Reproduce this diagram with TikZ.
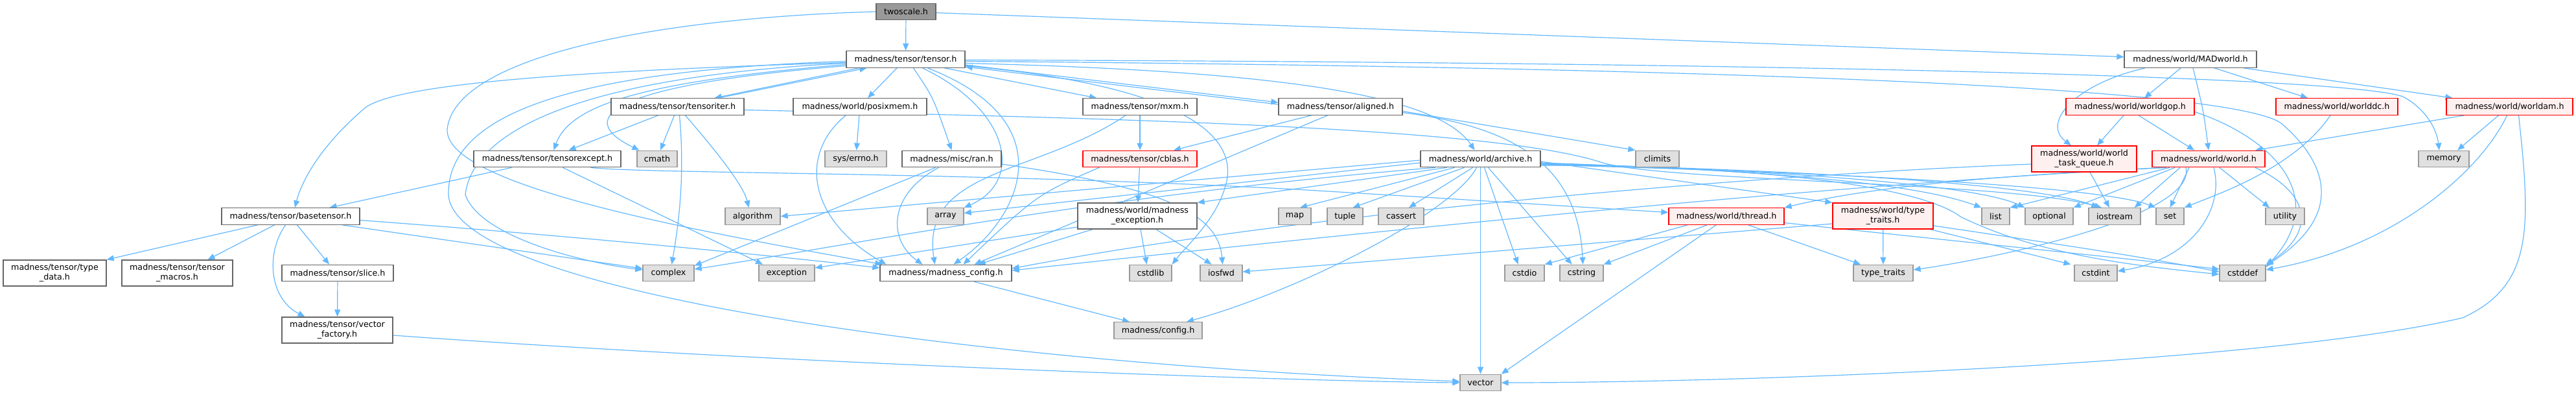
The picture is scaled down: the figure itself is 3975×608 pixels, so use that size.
\documentclass[tikz,border=0pt]{standalone}
\usepackage{fontspec}
\setmainfont{DejaVu Sans}
\usetikzlibrary{arrows.meta}
\definecolor{edgec}{HTML}{63B8FF}
\definecolor{nodeb}{HTML}{666666}
\definecolor{sysb}{HTML}{999999}
\definecolor{sysf}{HTML}{E0E0E0}
\definecolor{redb}{HTML}{FF0000}
\definecolor{redf}{HTML}{FFF0F0}
\definecolor{rootf}{HTML}{999999}
\newcommand\nfont{\fontsize{12.7pt}{15pt}\selectfont}
\pgfdeclarelayer{bg}
\pgfsetlayers{bg,main}
\tikzset{
  nb/.style={draw=nodeb, fill=white, line width=1.3pt, inner sep=0pt, align=center, font=\nfont, minimum height=25.5pt},
  nsys/.style={nb, draw=sysb, fill=sysf},
  nred/.style={nb, draw=redb, fill=redf},
  nroot/.style={nb, draw=nodeb, fill=rootf},
  two/.style={minimum height=40pt},
  edg/.style={draw=edgec, line width=1.2pt, -{Triangle[length=11pt,width=9pt]}},
}
\begin{document}
\begin{tikzpicture}[x=1pt,y=-1pt]
\useasboundingbox (0,0) rectangle (3975,608);
% row 0/1
\node[nroot, minimum width=92pt] (TS) at (1398,18) {twoscale.h};
\node[nb, minimum width=183pt] (T) at (1397.5,91.5) {madness/tensor/tensor.h};
\node[nb, minimum width=204pt] (MAD) at (3380,91.5) {madness/world/MADworld.h};
% row 2
\node[nb, minimum width=205pt] (TI) at (1045.5,164.5) {madness/tensor/tensoriter.h};
\node[nb, minimum width=206pt] (PM) at (1327,164.5) {madness/world/posixmem.h};
\node[nb, minimum width=176pt] (MXM) at (1759,164.5) {madness/tensor/mxm.h};
\node[nb, minimum width=191pt] (AL) at (2068.5,164.5) {madness/tensor/aligned.h};
\node[nred, minimum width=198pt] (GOP) at (3287,164.5) {madness/world/worldgop.h};
\node[nred, minimum width=188pt] (WDC) at (3606,164.5) {madness/world/worlddc.h};
\node[nred, minimum width=195pt] (AM) at (3872.5,164.5) {madness/world/worldam.h};
% row 3
\node[nb, minimum width=227pt] (TE) at (844.5,245) {madness/tensor/tensorexcept.h};
\node[nsys, minimum width=62pt] (CMATH) at (1014,245) {cmath};
\node[nsys, minimum width=95pt] (ERRNO) at (1320.5,245) {sys/errno.h};
\node[nb, minimum width=153pt] (RAN) at (1468.5,245) {madness/misc/ran.h};
\node[nred, minimum width=176pt] (CBLAS) at (1759,245) {madness/tensor/cblas.h};
\node[nb, minimum width=185pt] (AR) at (2284.5,245) {madness/world/archive.h};
\node[nsys, minimum width=67pt] (CLIM) at (2557.5,245) {climits};
\node[nred, two, minimum width=162pt] (WTQ) at (3216,245) {madness/world/world\\\_task\_queue.h};
\node[nred, minimum width=174pt] (W) at (3408,245) {madness/world/world.h};
\node[nsys, minimum width=78pt] (MEM) at (3771,245) {memory};
% row 4
\node[nb, minimum width=213pt] (BT) at (448.5,333.5) {madness/tensor/basetensor.h};
\node[nsys, minimum width=85pt] (ALG) at (1161.5,333.5) {algorithm};
\node[nsys, minimum width=56pt] (ARR) at (1459,333.5) {array};
\node[nb, two, minimum width=184pt] (ME) at (1755,333) {madness/world/madness\\\_exception.h};
\node[nsys, minimum width=50pt] (MAP) at (1998,333.5) {map};
\node[nsys, minimum width=55pt] (TUP) at (2075.5,333.5) {tuple};
\node[nsys, minimum width=70pt] (CAS) at (2162,333.5) {cassert};
\node[nred, minimum width=178pt] (TH) at (2664,333.5) {madness/world/thread.h};
\node[nred, two, minimum width=155pt] (TT) at (2905.5,333) {madness/world/type\\\_traits.h};
\node[nsys, minimum width=43pt] (LIST) at (3079.5,333.5) {list};
\node[nsys, minimum width=74pt] (OPT) at (3162,333.5) {optional};
\node[nsys, minimum width=80pt] (IOS) at (3263,333.5) {iostream};
\node[nsys, minimum width=43pt] (SET) at (3348.5,333.5) {set};
\node[nsys, minimum width=60pt] (UTIL) at (3526,333.5) {utility};
% row 5
\node[nb, two, minimum width=159pt] (TD) at (84.5,421) {madness/tensor/type\\\_data.h};
\node[nb, two, minimum width=171pt] (TM) at (273.5,421) {madness/tensor/tensor\\\_macros.h};
\node[nb, minimum width=172pt] (SL) at (521,421) {madness/tensor/slice.h};
\node[nsys, minimum width=79pt] (CPX) at (1031.5,421) {complex};
\node[nsys, minimum width=86pt] (EXC) at (1214,421) {exception};
\node[nb, minimum width=203pt] (MC) at (1459.5,421) {madness/madness\_config.h};
\node[nsys, minimum width=65pt] (CSL) at (1775.5,421) {cstdlib};
\node[nsys, minimum width=65pt] (IOSF) at (1884.5,421) {iosfwd};
\node[nsys, minimum width=61pt] (CSTDIO) at (2352.5,421) {cstdio};
\node[nsys, minimum width=67pt] (CSTR) at (2440.5,421) {cstring};
\node[nsys, minimum width=92pt] (TYT) at (2906,421) {type\_traits};
\node[nsys, minimum width=66pt] (CINT) at (3234,421) {cstdint};
\node[nsys, minimum width=71pt] (CDEF) at (3460.5,421) {cstddef};
% row 6/7
\node[nb, two, minimum width=171pt] (VF) at (520.5,509) {madness/tensor/vector\\\_factory.h};
\node[nsys, minimum width=136pt] (CFG) at (1787,509.5) {madness/config.h};
\node[nsys, minimum width=63pt] (VEC) at (2284.5,590) {vector};

\begin{pgfonlayer}{bg}
% twoscale.h
\draw[edg] (TS) -- (T);
\draw[edg] (TS) -- (MAD);
\draw[edg] (TS.west) .. controls (1000,28) and (700,90) .. (690,200) .. controls (688,290) and (1100,360) .. ([xshift=4pt]MC.north west);
% tensor.h
\draw[edg] ([yshift=-5pt]T.west) .. controls (800,112) and (610,135) .. (565,165) .. controls (505,215) and (468,270) .. ([xshift=6.5pt]BT.north);
\draw[edg] ([yshift=-3pt]T.west) .. controls (900,108) and (690,170) .. (692,300) .. controls (700,450) and (1500,560) .. ([yshift=2pt]VEC.west);
\draw[edg] ([yshift=-6pt]T.west) .. controls (900,118) and (730,200) .. (718,300) .. controls (740,365) and (900,405) .. ([yshift=5pt]CPX.west);
\draw[edg] ([yshift=-8pt]T.west) .. controls (1000,125) and (880,160) .. ([xshift=10pt]TE.north);
\draw[edg] ([yshift=-10pt]T.west) .. controls (950,130) and (880,180) .. ([xshift=4pt]CMATH.north west);
\draw[edg] ([xshift=20pt]T.south west) -- ([xshift=57pt]TI.north);
\draw[edg] ([xshift=63pt]TI.north) -- ([xshift=32pt]T.south west);
\draw[edg] ([xshift=-13.5pt]T.south) -- ([xshift=12pt]PM.north);
\draw[edg] ([xshift=12pt]T.south) .. controls (1440,150) .. (RAN.north);
\draw[edg] ([xshift=26pt]T.south) .. controls (1560,170) and (1580,280) .. (ARR.north east);
\draw[edg] ([xshift=34pt]T.south) .. controls (1650,190) and (1570,340) .. ([xshift=12pt]MC.north);
\draw[edg] ([xshift=60pt]T.south) -- ([xshift=-67pt]MXM.north);
\draw[edg] ([yshift=-8.5pt]T.east) -- ([yshift=6.5pt]AL.west);
\draw[edg] ([yshift=3.5pt]AL.west) -- ([yshift=-11.5pt]T.east);
\draw[edg] ([yshift=-6pt]T.east) .. controls (2000,110) and (2220,150) .. ([xshift=-9pt]AR.north);
\draw[edg] ([yshift=-10pt]T.east) .. controls (1800,130) and (1920,200) .. (1890,290) .. controls (1875,340) and (1830,380) .. (CSL.north east);
\draw[edg] ([yshift=-1pt]T.east) .. controls (2800,96) and (3650,120) .. (3710,150) .. controls (3745,170) and (3760,200) .. ([xshift=-7pt]MEM.north);
\draw[edg] ([yshift=-3pt]T.east) .. controls (2800,105) and (3450,140) .. (3520,190) .. controls (3590,250) and (3620,330) .. ([yshift=-2pt]CDEF.north east);
% tensoriter.h
\draw[edg] ([xshift=-30pt]TI.south) -- ([xshift=33pt]TE.north);
\draw[edg] ([xshift=-5pt]TI.south) -- ([xshift=5pt]CMATH.north);
\draw[edg] ([xshift=3pt]TI.south) .. controls (1056,260) and (1050,330) .. ([xshift=5pt]CPX.north);
\draw[edg] ([xshift=12pt]TI.south) .. controls (1120,250) and (1148,290) .. ([xshift=-6pt]ALG.north);
\draw[edg] ([yshift=-5pt]TI.east) .. controls (1700,182) and (2300,195) .. (2470,250) .. controls (2560,280) and (3100,280) .. ([xshift=-20pt]IOS.north);
% posixmem.h
\draw[edg] (PM) -- (ERRNO);
\draw[edg] ([xshift=-22pt]PM.south) .. controls (1230,240) and (1250,340) .. ([xshift=10pt]MC.north west);
% ran.h
\draw[edg] ([xshift=-25pt]RAN.south) -- ([yshift=-2pt]CPX.north east);
\draw[edg] ([xshift=-20pt]RAN.south) .. controls (1370,300) and (1370,370) .. ([xshift=-36pt]MC.north);
\draw[edg] ([yshift=-8pt]RAN.east) .. controls (1800,290) and (1880,330) .. ([xshift=2pt]IOSF.north);
% mxm.h
\draw[edg] (MXM) -- (CBLAS);
\draw[edg] ([xshift=-22pt]MXM.south) .. controls (1600,270) and (1420,260) .. ([xshift=-17pt]MC.north);
% aligned.h
\draw[edg] ([xshift=-45pt]AL.south) -- ([xshift=52pt]CBLAS.north);
\draw[edg] ([xshift=-20pt]AL.south) -- ([xshift=44pt]MC.north);
\draw[edg] ([yshift=-7pt]AL.east) -- (CLIM.north west);
\draw[edg] ([yshift=-9pt]AL.east) .. controls (2330,195) and (2435,250) .. ([xshift=2pt]CSTR.north);
% cblas.h
\draw[edg] (CBLAS) -- (ME);
\draw[edg] ([xshift=-63pt]CBLAS.south) .. controls (1600,300) .. ([xshift=27pt]MC.north);
% madness_exception.h
\draw[edg] ([xshift=-69pt]ME.south) -- ([xshift=50pt]MC.north);
\draw[edg] ([yshift=-17pt]ME.west) -- ([yshift=8pt]EXC.east);
\draw[edg] ([xshift=5pt]ME.south) -- ([xshift=-6pt]CSL.north);
\draw[edg] ([xshift=29pt]ME.south) -- ([xshift=-15pt]IOSF.north);
% tensorexcept.h
\draw[edg] ([xshift=-55pt]TE.south) -- ([xshift=60pt]BT.north);
\draw[edg] ([xshift=24pt]TE.south) -- ([xshift=-37pt]EXC.north);
\draw[edg] ([xshift=67pt]TE.south) .. controls (1000,268) and (1500,265) .. (2000,292) .. controls (2300,310) and (2450,320) .. ([yshift=6pt]TH.west);
% basetensor.h
\draw[edg] ([xshift=-51pt]BT.south) -- (TD.north east);
\draw[edg] ([xshift=-25pt]BT.south) -- ([xshift=47pt]TM.north);
\draw[edg] ([xshift=10pt]BT.south) -- ([xshift=-13pt]SL.north);
\draw[edg] ([xshift=-8pt]BT.south) .. controls (410,390) and (415,460) .. ([xshift=-50pt]VF.north);
\draw[edg] ([xshift=80pt]BT.south) -- ([yshift=7pt]CPX.west);
\draw[edg] ([yshift=-6pt]BT.east) .. controls (900,365) and (1200,395) .. ([yshift=8pt]MC.west);
\draw[edg] (SL) -- (VF);
\draw[edg] ([yshift=-8pt]VF.east) .. controls (1200,560) and (2000,588) .. (VEC.west);
% madness_config
\draw[edg] ([xshift=44pt]MC.south) -- ([xshift=-44pt]CFG.north);
% archive.h
\draw[edg] ([yshift=-2pt]AR.west) -- (ALG.east);
\draw[edg] ([yshift=-6pt]AR.west) -- ([yshift=5pt]ARR.east);
\draw[edg] ([xshift=-70pt]AR.south) .. controls (1700,300) and (1300,380) .. ([yshift=6pt]CPX.east);
\draw[edg] ([xshift=-52pt]AR.south) -- (ME.north east);
\draw[edg] ([xshift=-40pt]AR.south) -- ([xshift=8pt]MAP.north);
\draw[edg] ([xshift=-25pt]AR.south) -- ([xshift=12pt]TUP.north);
\draw[edg] ([xshift=-12pt]AR.south) -- ([xshift=12pt]CAS.north);
\draw[edg] ([xshift=-6pt]AR.south) .. controls (2240,330) and (2000,450) .. ([xshift=44pt]CFG.north);
\draw[edg] (AR) -- (VEC);
\draw[edg] ([xshift=6pt]AR.south) -- ([xshift=-10pt]CSTDIO.north);
\draw[edg] ([xshift=12pt]AR.south) -- ([xshift=-15pt]CSTR.north);
\draw[edg] ([yshift=-4pt]AR.east) -- (TT.north west);
\draw[edg] ([yshift=-6pt]AR.east) .. controls (2700,262) and (2950,280) .. (LIST.north west);
\draw[edg] ([yshift=-7pt]AR.east) .. controls (2750,262) and (3050,285) .. (OPT.north west);
\draw[edg] ([yshift=-8pt]AR.east) .. controls (2800,262) and (3150,285) .. ([xshift=-25pt]IOS.north);
\draw[edg] ([yshift=-9pt]AR.east) .. controls (2900,268) and (3250,290) .. (SET.north west);
\draw[edg] ([yshift=-10pt]AR.east) .. controls (2700,255) and (2960,285) .. (3025,334) .. controls (3150,395) and (3300,410) .. ([yshift=-2pt]CDEF.west);
% thread.h
\draw[edg] ([xshift=-60pt]TH.south) -- (CSTDIO.north east);
\draw[edg] ([xshift=-30pt]TH.south) -- (CSTR.north east);
\draw[edg] ([xshift=-16pt]TH.south) -- (VEC.north east);
\draw[edg] ([xshift=34pt]TH.south) -- ([xshift=-35pt]TYT.north);
\draw[edg] ([yshift=-10pt]TH.east) .. controls (3000,370) and (3250,395) .. ([yshift=6pt]CDEF.west);
% type_traits.h
\draw[edg] (TT) -- (TYT);
\draw[edg] ([xshift=-5pt]TT.south east) -- ([xshift=-5pt]CINT.north west);
\draw[edg] ([yshift=-15pt]TT.east) .. controls (3200,380) and (3300,395) .. ([yshift=2pt]CDEF.west);
\draw[edg] ([yshift=-12pt]TT.west) -- ([yshift=2pt]IOSF.east);
% MADworld.h
\draw[edg] ([xshift=-15pt]MAD.south) -- ([xshift=22pt]GOP.north);
\draw[edg] ([xshift=4pt]MAD.south) .. controls (3400,170) .. (W.north);
\draw[edg] ([xshift=37pt]MAD.south) -- ([xshift=-45pt]WDC.north);
\draw[edg] ([xshift=82pt]MAD.south) -- ([xshift=-88pt]AM.north);
\draw[edg] ([xshift=-70pt]MAD.south) .. controls (3200,130) and (3150,190) .. ([xshift=-20pt]WTQ.north);
% worldgop.h
\draw[edg] ([xshift=-10pt]GOP.south) -- ([xshift=20pt]WTQ.north);
\draw[edg] ([xshift=13pt]GOP.south) -- ([xshift=-22pt]W.north);
\draw[edg] ([yshift=-8pt]GOP.east) .. controls (3500,210) and (3600,300) .. ([yshift=-4pt]CDEF.north east);
% worlddc.h
\draw[edg] ([xshift=-10pt]WDC.south) .. controls (3540,260) and (3420,300) .. (SET.north east);
% worldam.h
\draw[edg] ([xshift=-70pt]AM.south) -- ([xshift=72pt]W.north);
\draw[edg] ([xshift=-17pt]AM.south) -- ([xshift=21pt]MEM.north);
\draw[edg] ([xshift=-4pt]AM.south) .. controls (3830,260) and (3700,380) .. ([yshift=5pt]CDEF.east);
\draw[edg] ([xshift=14pt]AM.south) .. controls (3905,350) and (3910,440) .. (3800,490) .. controls (3500,560) and (2700,590) .. (VEC.east);
% world.h
\draw[edg] ([xshift=-60pt]W.south) -- (LIST.north east);
\draw[edg] ([xshift=-52pt]W.south) -- (OPT.north east);
\draw[edg] ([xshift=-44pt]W.south) -- ([xshift=-10pt]IOS.north east);
\draw[edg] ([xshift=-30pt]W.south) -- (SET.north);
\draw[edg] ([xshift=17pt]W.south) -- ([xshift=-24pt]UTIL.north);
\draw[edg] ([xshift=72pt]W.south) .. controls (3570,300) and (3570,360) .. (CDEF.north east);
\draw[edg] ([xshift=-70pt]W.south) .. controls (3100,270) and (2900,285) .. (TH.north east);
\draw[edg] ([xshift=-35pt]W.south) .. controls (3390,330) and (3100,395) .. ([yshift=5pt]TYT.east);
\draw[edg] ([xshift=8pt]W.south) .. controls (3433,323) and (3382,400) .. ([yshift=3pt]CINT.east);
\draw[edg] ([xshift=-65pt]W.south) .. controls (3000,275) and (2450,320) .. ([yshift=4pt]MC.east);
% world_task_queue.h
\draw[edg] ([yshift=-8pt]WTQ.west) .. controls (2700,270) and (2000,330) .. ([yshift=7pt]MC.east);
\draw[edg] ([xshift=9pt]WTQ.south) -- ([xshift=-8pt]IOS.north);
\end{pgfonlayer}
\end{tikzpicture}
\end{document}
